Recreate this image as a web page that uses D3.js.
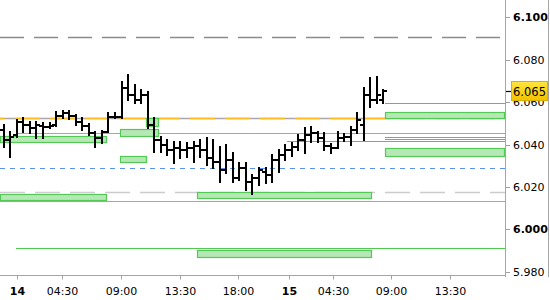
<!DOCTYPE html>
<html><head><meta charset="utf-8">
<script src="https://cdn.jsdelivr.net/npm/d3@7"></script>
<style>
html,body{margin:0;padding:0;background:#fff;}
svg{display:block;font-family:"DejaVu Sans",sans-serif;}
</style></head>
<body>
<svg id="chart" width="550" height="300"></svg>
<script>
// ---- DATA ----
const opens  = [6.0469,6.0422,6.0446,6.0507,6.0493,6.0479,6.0488,6.0483,6.0493,6.0535,6.0549,6.0535,6.0507,6.0488,6.0455,6.0432,6.0460,6.0530,6.0530,6.0667,6.0634,6.0610,6.0634,6.0493,6.0422,6.0399,6.0375,6.0384,6.0375,6.0384,6.0394,6.0375,6.0337,6.0319,6.0281,6.0328,6.0243,6.0290,6.0225,6.0243,6.0272,6.0257,6.0328,6.0352,6.0375,6.0389,6.0422,6.0446,6.0455,6.0432,6.0394,6.0384,6.0432,6.0436,6.0469,6.0493,6.0634,6.0610,6.0610];
const highs  = [6.0493,6.0460,6.0516,6.0526,6.0507,6.0507,6.0502,6.0502,6.0554,6.0559,6.0559,6.0540,6.0526,6.0497,6.0460,6.0464,6.0549,6.0549,6.0695,6.0728,6.0681,6.0658,6.0648,6.0526,6.0436,6.0422,6.0413,6.0413,6.0408,6.0413,6.0422,6.0432,6.0422,6.0389,6.0399,6.0361,6.0314,6.0314,6.0257,6.0290,6.0290,6.0352,6.0375,6.0399,6.0408,6.0446,6.0479,6.0483,6.0460,6.0455,6.0403,6.0460,6.0450,6.0483,6.0549,6.0667,6.0714,6.0719,6.0658];
const lows   = [6.0389,6.0342,6.0436,6.0460,6.0455,6.0432,6.0432,6.0479,6.0488,6.0526,6.0521,6.0493,6.0469,6.0446,6.0389,6.0408,6.0460,6.0526,6.0526,6.0610,6.0596,6.0596,6.0479,6.0366,6.0366,6.0352,6.0314,6.0337,6.0342,6.0319,6.0342,6.0305,6.0290,6.0225,6.0267,6.0225,6.0234,6.0187,6.0168,6.0210,6.0220,6.0225,6.0272,6.0328,6.0347,6.0375,6.0361,6.0413,6.0413,6.0375,6.0361,6.0384,6.0417,6.0399,6.0455,6.0422,6.0578,6.0596,6.0596];
const closes = [6.0422,6.0436,6.0507,6.0493,6.0479,6.0493,6.0483,6.0488,6.0535,6.0549,6.0535,6.0507,6.0488,6.0455,6.0432,6.0460,6.0530,6.0530,6.0667,6.0634,6.0610,6.0634,6.0493,6.0422,6.0399,6.0375,6.0384,6.0375,6.0384,6.0394,6.0375,6.0337,6.0319,6.0281,6.0328,6.0243,6.0290,6.0225,6.0243,6.0281,6.0257,6.0328,6.0352,6.0375,6.0389,6.0422,6.0446,6.0455,6.0432,6.0394,6.0384,6.0432,6.0436,6.0469,6.0516,6.0634,6.0610,6.0634,6.065];

const priceNow = 6.065;

const yTicks = [5.98, 6.00, 6.02, 6.04, 6.06, 6.08, 6.10];
const yTicksBold = [6.00, 6.10];

const xTickPos    = [2.0, 8.86, 17.88, 26.88, 35.87, 43.55, 50.24, 59.24, 68.24];
const xTickLabels = ["14","04:30","09:00","13:30","18:00","15","04:30","09:00","13:30"];
const xTickBold   = [true,false,false,false,false,true,false,false,false];

// horizontal levels (price, start in bar-index units, kind)
const levelPrices = [6.0905, 6.0525, 6.0454, 6.0418, 6.0289, 6.0176, 6.0134, 5.9914, 6.0598, 6.0437, 6.0428];
const levelStart  = [-0.565, -0.565, 1.88, 43.3, -0.565, -0.565, -0.565, 1.88, 58.26, 58.26, 58.26];
const levelKind   = ["darkDash","orangeDash","gray","green","blueDash","lightDash","gray","green","green","green","green"];

// zones (bar-index start/end, price top/bottom)
const zoneStart  = [-0.565, -0.565, 17.77, 21.74, 17.77, 29.53, 29.53, 58.26, 58.26];
const zoneEnd    = [15.78, 15.78, 23.73, 23.73, 21.9, 56.27, 56.27, 76.59, 76.59];
const zoneTop    = [6.0442, 6.0167, 6.0473, 6.0524, 6.0347, 6.0176, 5.9901, 6.0553, 6.0383];
const zoneBottom = [6.0412, 6.0137, 6.0441, 6.0488, 6.0317, 6.0146, 5.9870, 6.0525, 6.0344];

// ---- DRAW ----
const svg = d3.select("#chart");
const plotRight = 505, plotBottom = 275.5;
const x = d3.scaleLinear().domain([-0.565, 76.59]).range([0, plotRight]);
const y = d3.scaleLinear().domain([5.98, 6.10]).range([271.7, 17.3]);

const defs = svg.append("defs");
const g1 = defs.append("linearGradient").attr("id","gold").attr("x1",0).attr("y1",0).attr("x2",0).attr("y2",1);
g1.append("stop").attr("offset","0%").attr("stop-color","#ffe640");
g1.append("stop").attr("offset","100%").attr("stop-color","#f2c200");
defs.append("clipPath").attr("id","plotClip").append("rect").attr("x",0).attr("y",0).attr("width",plotRight).attr("height",plotBottom);

const plot = svg.append("g").attr("clip-path","url(#plotClip)");

const levelStyle = {
  darkDash:  {stroke:"#8a8a8a", w:1.5, dash:"24,10"},
  orangeDash:{stroke:"#a8a8a8", w:1.5, dash:null, over:{stroke:"#ffbb22", dash:"25,10"}},
  gray:      {stroke:"#a6a6a6", w:1.2, dash:null},
  green:     {stroke:"#4fc94f", w:1.2, dash:null},
  blueDash:  {stroke:"#5b8ff0", w:1.2, dash:"5,5"},
  lightDash: {stroke:"#cccccc", w:1.5, dash:"25,10"}
};

levelPrices.forEach((p, i) => {
  const st = levelStyle[levelKind[i]];
  const yy = Math.round(y(p)) + 0.5;
  const l = plot.append("line").attr("x1", x(levelStart[i])).attr("x2", plotRight)
    .attr("y1", yy).attr("y2", yy).attr("stroke", st.stroke).attr("stroke-width", st.w);
  if (st.dash) l.attr("stroke-dasharray", st.dash);
  if (st.over) {
    plot.append("line").attr("x1", x(levelStart[i])).attr("x2", plotRight)
      .attr("y1", yy).attr("y2", yy).attr("stroke", st.over.stroke).attr("stroke-width", st.w)
      .attr("stroke-dasharray", st.over.dash).attr("stroke-dashoffset", -15);
  }
});

// zones
zoneStart.forEach((s, i) => {
  const x0 = Math.round(x(s)) + 0.5, x1 = Math.round(x(zoneEnd[i])) - 0.5;
  const y0 = Math.round(y(zoneTop[i])) + 0.5, y1 = Math.round(y(zoneBottom[i])) + 0.5;
  plot.append("rect").attr("x", x0).attr("y", y0).attr("width", x1 - x0).attr("height", y1 - y0)
    .attr("fill", "#b5e8b5").attr("stroke", "#55c955").attr("stroke-width", 1.2);
});

// OHLC bars
const barsG = plot.append("g").attr("stroke", "#000").attr("stroke-width", 2).attr("fill", "none")
  .attr("shape-rendering", "crispEdges");
opens.forEach((o, i) => {
  const cx = Math.round(x(i));
  const yh = Math.round(y(highs[i])), yl = Math.round(y(lows[i]));
  const yo = Math.round(y(o)), yc = Math.round(y(closes[i]));
  barsG.append("path").attr("d",
    `M${cx},${yh - 1}V${yl + 1}M${cx - 4},${yo}H${cx}M${cx},${yc}H${cx + 4}`);
});

// frame lines
svg.append("line").attr("x1", plotRight + 0.5).attr("x2", plotRight + 0.5).attr("y1", 0).attr("y2", 277)
  .attr("stroke", "#a6a6a6").attr("stroke-width", 1);
svg.append("line").attr("x1", 0).attr("x2", plotRight + 0.5).attr("y1", plotBottom).attr("y2", plotBottom)
  .attr("stroke", "#a6a6a6").attr("stroke-width", 1);
svg.append("line").attr("x1", 548.5).attr("x2", 548.5).attr("y1", 0).attr("y2", 277)
  .attr("stroke", "#a6a6a6").attr("stroke-width", 1);

// right axis
const yAxisG = svg.append("g");
yTicks.forEach(t => {
  const yy = Math.round(y(t)) + 0.5;
  yAxisG.append("line").attr("x1", plotRight + 1).attr("x2", plotRight + 5).attr("y1", yy).attr("y2", yy)
    .attr("stroke", "#a0a0a0");
  yAxisG.append("text").attr("x", 513).attr("y", yy).attr("dy", "0.36em")
    .attr("font-size", 11).attr("fill", "#000")
    .attr("font-weight", yTicksBold.some(b => Math.abs(b - t) < 1e-9) ? "bold" : "normal")
    .text(d3.format(".3f")(t));
});

// bottom axis
const xAxisG = svg.append("g");
xTickPos.forEach((p, i) => {
  const xx = Math.round(x(p)) + 0.5;
  xAxisG.append("line").attr("x1", xx).attr("x2", xx).attr("y1", plotBottom).attr("y2", plotBottom + 4)
    .attr("stroke", "#a0a0a0");
  xAxisG.append("text").attr("x", xx).attr("y", 291).attr("dy", "0.36em").attr("text-anchor", "middle")
    .attr("font-size", 11).attr("fill", "#000").attr("font-weight", xTickBold[i] ? "bold" : "normal")
    .text(xTickLabels[i]);
});

// current price marker (covers the 6.060 label as in the reference)
const yp = Math.round(y(priceNow)) + 0.5;
svg.append("line").attr("x1", plotRight + 1).attr("x2", plotRight + 6).attr("y1", yp).attr("y2", yp)
  .attr("stroke", "#000").attr("stroke-width", 1.2);
svg.append("rect").attr("x", 511.5).attr("y", yp - 10).attr("width", 36).attr("height", 19)
  .attr("fill", "url(#gold)").attr("stroke", "#d9b200").attr("stroke-width", 1);
svg.append("text").attr("x", 529.5).attr("y", yp).attr("dy", "0.36em").attr("text-anchor", "middle")
  .attr("font-size", 11.5).attr("fill", "#000").text(d3.format(".3f")(priceNow));
</script>
</body></html>
